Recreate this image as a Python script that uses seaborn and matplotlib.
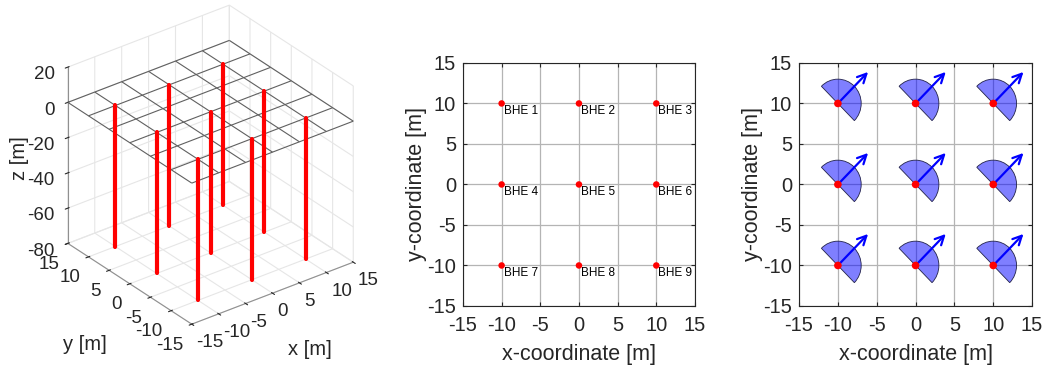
import numpy as np
import pandas as pd
import seaborn as sns
import matplotlib.pyplot as plt
from matplotlib.patches import Wedge

# BHE field data
bhe_x = [-10, 0, 10, -10, 0, 10, -10, 0, 10]
bhe_y = [10, 10, 10, 0, 0, 0, -10, -10, -10]
bhe_names = ['BHE 1', 'BHE 2', 'BHE 3', 'BHE 4', 'BHE 5', 'BHE 6', 'BHE 7', 'BHE 8', 'BHE 9']
bhe_top = 0
bhe_bottom = -80
mesh_coords = [-15, -10, -5, 0, 5, 10, 15]
xy_ticks = [-15, -10, -5, 0, 5, 10, 15]
z_ticks = [-80, -60, -40, -20, 0, 20]
# groundwater flow sector / arrow (deg, m)
flow_dir = 45
sector_half = 90
sector_radius = 3
arrow_len = 5.5

sns.set_style('white')
plt.rcParams['font.family'] = ['Liberation Sans', 'DejaVu Sans']
plt.rcParams['axes.unicode_minus'] = False
plt.rcParams['text.color'] = '#262626'
plt.rcParams['axes.labelcolor'] = '#262626'
plt.rcParams['xtick.color'] = '#262626'
plt.rcParams['ytick.color'] = '#262626'

df = pd.DataFrame({'x': bhe_x, 'y': bhe_y, 'name': bhe_names})

fig = plt.figure(figsize=(10.46, 3.66), dpi=100)

# Figure a: 3D view of the BHEs
with plt.rc_context({'grid.color': '#e6e6e6', 'grid.linewidth': 0.8}):
    ax1 = fig.add_axes([-0.014, -0.025, 0.42, 1.12], projection='3d')
ax1.set_proj_type('ortho')
ax1.view_init(elev=30, azim=-127.5)
ax1.set_box_aspect((1, 1, 1), zoom=0.835)
ax1.computed_zorder = False
X, Y = np.meshgrid(mesh_coords, mesh_coords)
ax1.plot_wireframe(X, Y, np.zeros_like(X), color='#606060', linewidth=0.8)
for i in range(len(bhe_x)):
    ax1.plot([bhe_x[i], bhe_x[i]], [bhe_y[i], bhe_y[i]], [bhe_top, bhe_bottom], color='red', linewidth=3)
ax1.set_xlim(-15, 15)
ax1.set_ylim(-15, 15)
ax1.set_zlim(-80, 20)
ax1.set_xticks(xy_ticks)
ax1.set_yticks(xy_ticks)
ax1.set_zticks(z_ticks)
for a in (ax1.xaxis, ax1.yaxis, ax1.zaxis):
    a.set_pane_color((1, 1, 1, 0))
    a.pane.set_edgecolor('#e6e6e6')
    a.line.set_color('#909090')
    a.line.set_linewidth(0.8)
ax1.tick_params(labelsize=13.5)
ax1.xaxis.set_tick_params(pad=-2)
ax1.yaxis.set_tick_params(pad=0)
ax1.zaxis.set_tick_params(pad=-1)
for lab in ax1.xaxis.get_ticklabels():
    lab.set_ha('left')
for lab in ax1.yaxis.get_ticklabels():
    lab.set_ha('right')
for lab in ax1.zaxis.get_ticklabels():
    lab.set_ha('right')
fig.text(0.296, 0.045, 'x [m]', fontsize=14.5, ha='center', va='center')
fig.text(0.081, 0.058, 'y [m]', fontsize=14.5, ha='center', va='center')
fig.text(0.019, 0.568, 'z [m]', fontsize=14.5, ha='center', va='center', rotation=90)


def plan_axes(rect):
    ax = fig.add_axes(rect)
    ax.set_xlim(-15, 15)
    ax.set_ylim(-15, 15)
    ax.set_xticks(xy_ticks)
    ax.set_yticks(xy_ticks)
    ax.grid(True, color='#b4b4b4', linewidth=0.9)
    ax.set_axisbelow(True)
    for s in ax.spines.values():
        s.set_color('#262626')
        s.set_linewidth(0.8)
    ax.tick_params(labelsize=14.5, direction='in', length=3, left=True, bottom=True, top=True, right=True)
    ax.tick_params(axis='x', pad=7)
    ax.tick_params(axis='y', pad=5)
    return ax


# Figure b: plan view with labels
ax2 = plan_axes([0.4426, 0.164, 0.2218, 0.664])
sns.scatterplot(data=df, x='x', y='y', color='red', s=22, edgecolor='none', ax=ax2, zorder=3)
for i in range(len(bhe_x)):
    ax2.text(bhe_x[i] + 0.25, bhe_y[i] - 0.2, bhe_names[i], fontsize=8.5, va='top', ha='left', color='black')
ax2.set_xlabel('x-coordinate [m]', fontsize=15.5, labelpad=7)
ax2.set_ylabel('y-coordinate [m]', fontsize=15.5, labelpad=0)

# Figure c: plan view with flow sectors
ax3 = plan_axes([0.7639, 0.164, 0.2228, 0.664])
rad = np.deg2rad(flow_dir)
for i in range(len(bhe_x)):
    ax3.add_patch(Wedge((bhe_x[i], bhe_y[i]), sector_radius, flow_dir - sector_half, flow_dir + sector_half,
                        facecolor=(0, 0, 1, 0.5), edgecolor='#22224a', linewidth=0.6, zorder=2))
    ax3.annotate('', xy=(bhe_x[i] + arrow_len * np.cos(rad), bhe_y[i] + arrow_len * np.sin(rad)),
                 xytext=(bhe_x[i], bhe_y[i]),
                 arrowprops=dict(arrowstyle='->', color='blue', lw=1.6, mutation_scale=16, shrinkA=0, shrinkB=0),
                 zorder=3)
sns.scatterplot(data=df, x='x', y='y', color='red', s=30, edgecolor='none', ax=ax3, zorder=4)
ax3.set_xlabel('x-coordinate [m]', fontsize=15.5, labelpad=7)
ax3.set_ylabel('y-coordinate [m]', fontsize=15.5, labelpad=0)

fig.savefig('out.png', dpi=100)
